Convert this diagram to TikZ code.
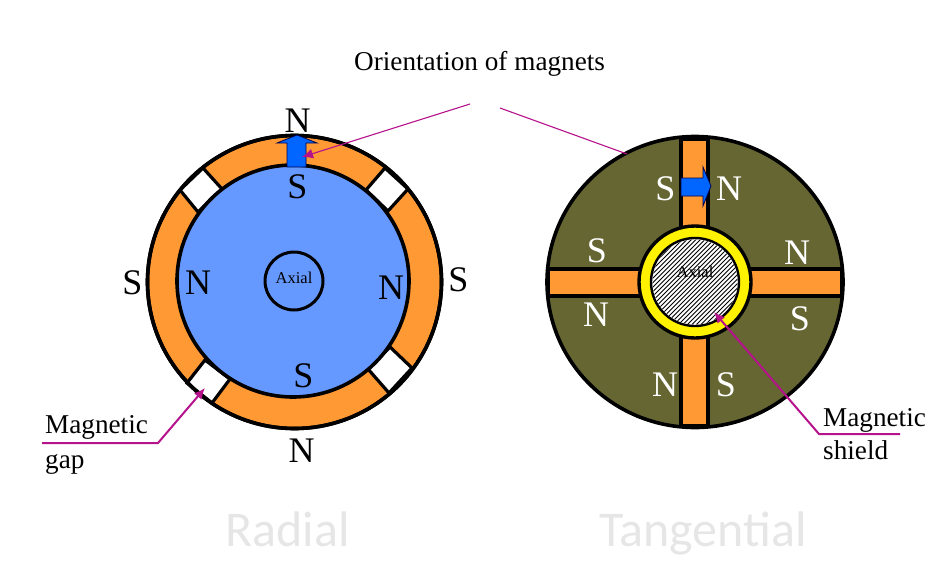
\documentclass[tikz,border=0pt]{standalone}
\usepackage{fontspec}
\setmainfont{Liberation Serif}
\newfontfamily\capfont{Carlito}
\usetikzlibrary{arrows.meta,calc,shapes.geometric}
\definecolor{magorange}{HTML}{FF9933}
\definecolor{rotorblue}{HTML}{6699FF}
\definecolor{arrowblue}{HTML}{0066FF}
\definecolor{olivedisc}{HTML}{666633}
\definecolor{leader}{HTML}{B5128C}
\definecolor{capgray}{HTML}{E6E6E6}
\tikzset{
  ring/.style={draw=black,line width=3.6pt},
  gapbox/.style={draw=black,line width=3.2pt,fill=white,line join=miter},
  spoke/.style={draw=black,line width=3.6pt,fill=magorange},
  pole/.style={inner sep=0pt,font=\fontsize{36}{36}\selectfont},
  wpole/.style={pole,text=white},
  label/.style={inner sep=0pt,anchor=base west,font=\fontsize{27.2}{27.2}\selectfont},
  axial/.style={inner sep=0pt,font=\fontsize{16.5}{16.5}\selectfont},
  caption/.style={inner sep=0pt,anchor=base,text=capgray,font=\capfont\fontsize{50}{50}\selectfont},
  dirarrow/.style={draw=black!70!blue,line width=0.8pt,fill=arrowblue},
  thinlead/.style={draw=leader,line width=1.1pt},
  thicklead/.style={draw=leader,line width=2pt},
  tip/.style={-{Latex[length=11pt,width=10pt]}}
}
\begin{document}
\begin{tikzpicture}[x=1pt,y=-1pt]
\useasboundingbox (0,0) rectangle (951,581);
% coordinates
\coordinate (lc) at (294.5,282);
\coordinate (lr) at (293,281);
\coordinate (rc) at (695,282);
\coordinate (ol) at (470,104);
\coordinate (olarrow) at (302,157);
\coordinate (or) at (500,108);
\coordinate (oredge) at (627,154);
\coordinate (gapa) at (42,443);
\coordinate (gapb) at (158,443);
\coordinate (gapc) at (205,388);
\coordinate (sha) at (900,434);
\coordinate (shb) at (819,434);
\coordinate (shc) at (714,312);
% left machine
\node[ellipse,ring,fill=magorange,minimum width=294pt,minimum height=293pt,inner sep=0pt] (stator) at (lc) {};
\path[gapbox] (203,168) -- (222,189) -- (198,212) -- (180,190) -- cycle;
\path[gapbox] (385,168) -- (366,190) -- (388,211) -- (408,189) -- cycle;
\path[gapbox] (205,360) -- (230,379) -- (212,403) -- (187,383) -- cycle;
\path[gapbox] (390,347) -- (412,368) -- (389,393) -- (368,369) -- cycle;
\node[ellipse,ring,minimum width=294pt,minimum height=293pt,inner sep=0pt] (statorline) at (lc) {};
\node[circle,ring,fill=rotorblue,minimum size=232pt,inner sep=0pt] (rotor) at (lr) {};
\path[dirarrow] (287,167) -- (287,143) -- (277,143) -- (297,135) -- (317,143) -- (306,143) -- (306,167) -- cycle;
\node[circle,draw=black,line width=3pt,minimum size=58pt,inner sep=0pt] (lax) at (294,281) {};
\node[axial] (laxial) at (294,278) {Axial};
% right machine
\node[ellipse,ring,fill=olivedisc,minimum width=296pt,minimum height=291pt,inner sep=0pt] (disc) at (rc) {};
\path[spoke] (681,139) rectangle (708,230);
\path[spoke] (681,330) rectangle (708,425.5);
\path[spoke] (548,269) rectangle (645,296);
\path[spoke] (745,269) rectangle (842,296);
\node[circle,draw=black,line width=3.4pt,fill=yellow,minimum size=112pt,inner sep=0pt] (shield) at (rc) {};
\node[circle,draw=black,line width=2.4pt,fill=white,minimum size=88pt,inner sep=0pt] (shaft) at (rc) {};
\begin{scope}
  \clip (rc) circle[radius=42.5];
  \foreach \d in {-100,-95.5,...,100}
    \draw[line width=0.95pt] ($(rc)+(\d-60,60)$) -- ($(rc)+(\d+60,-60)$);
\end{scope}
\node[axial] (raxial) at (695,272) {Axial};
\path[dirarrow] (681,178) -- (703,178) -- (703,167) -- (711,186) -- (703,206) -- (703,196) -- (681,196) -- cycle;
% poles
\node[pole] (n1) at (297.5,121) {N};
\node[pole] (s1) at (297.5,187) {S};
\node[pole] (s2) at (132.5,283) {S};
\node[pole] (n2) at (198,283) {N};
\node[pole] (n3) at (391,288) {N};
\node[pole] (s3) at (458.5,280) {S};
\node[pole] (s4) at (303.5,376) {S};
\node[pole] (n4) at (301.5,451) {N};
\node[wpole] (ws1) at (665.5,189) {S};
\node[wpole] (wn1) at (729,189) {N};
\node[wpole] (ws2) at (597,251) {S};
\node[wpole] (wn2) at (797,253) {N};
\node[wpole] (wn3) at (596,315) {N};
\node[wpole] (ws3) at (800,319) {S};
\node[wpole] (wn4) at (665,385) {N};
\node[wpole] (ws4) at (726,385) {S};
% leaders
\draw[thinlead,tip] (ol) -- (olarrow);
\draw[thinlead] (or) -- (oredge);
\draw[thicklead,tip] (gapa) -- (gapb) -- (gapc);
\draw[thicklead,tip] (sha) -- (shb) -- (shc);
% labels
\node[label] (orient) at (354,70) {Orientation of magnets};
\node[label] (mg1) at (45,433) {Magnetic};
\node[label] (mg2) at (45,468) {gap};
\node[label] (ms1) at (823,426) {Magnetic};
\node[label] (ms2) at (823,459) {shield};
\node[caption] (radial) at (287.5,546) {Radial};
\node[caption] (tang) at (703,546) {Tangential};
\end{tikzpicture}
\end{document}
